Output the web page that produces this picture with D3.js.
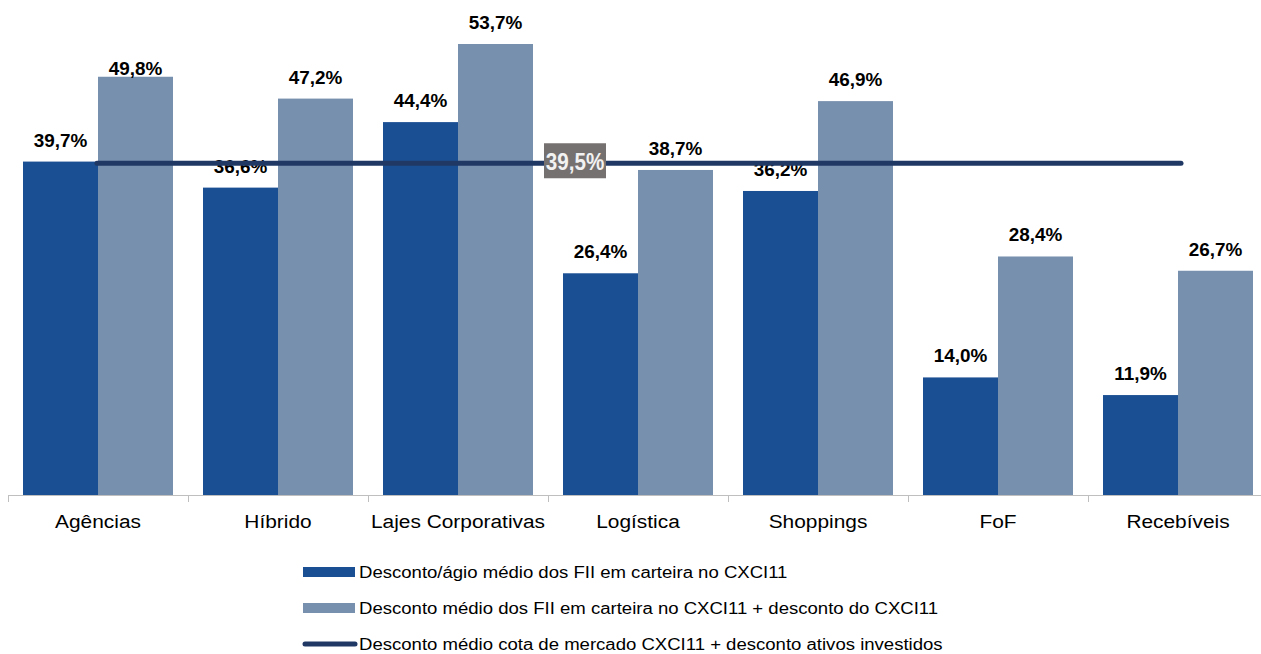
<!DOCTYPE html>
<html>
<head>
<meta charset="utf-8">
<script src="https://cdn.jsdelivr.net/npm/d3@7"></script>
<style>
  html, body { margin: 0; padding: 0; background: #fff; }
  svg { display: block; font-family: "Liberation Sans", Arial, sans-serif; }
</style>
</head>
<body>
<svg id="chart" width="1261" height="654"></svg>
<script>
// dados do gráfico
const categorias = ['Agências', 'Híbrido', 'Lajes Corporativas', 'Logística', 'Shoppings', 'FoF', 'Recebíveis'];
const descontoFII = [39.7, 36.6, 44.4, 26.4, 36.2, 14.0, 11.9];
const descontoTotal = [49.8, 47.2, 53.7, 38.7, 46.9, 28.4, 26.7];
const descontoMercado = 39.5;
const series = ['Desconto/ágio médio dos FII em carteira no CXCI11',
  'Desconto médio dos FII em carteira no CXCI11 + desconto do CXCI11',
  'Desconto médio cota de mercado CXCI11 + desconto ativos investidos'];

const corEscura = '#1b4f93';
const corClara = '#7790ae';
const corLinha = '#203864';

const fmt = v => v.toFixed(1).replace('.', ',') + '%';
const esticar = 1.16; // o texto original é mais largo

const svg = d3.select('#chart');
const baseY = 495;

// escalas
const x = d3.scaleBand().domain(categorias).range([8, 1268]).paddingInner(0).paddingOuter(0);
const x1 = d3.scaleBand().domain([0, 1]).range([15, 165]);
const y = d3.scaleLinear().domain([0, 53.7]).range([baseY, 44]);

function texto(g, px, py, s, size, bold, anchor, sx) {
  return g.append('text')
    .attr('transform', `translate(${px},${py}) scale(${sx || esticar},1)`)
    .attr('text-anchor', anchor || 'middle')
    .attr('font-size', size)
    .attr('font-weight', bold ? 'bold' : 'normal')
    .attr('fill', '#000')
    .text(s);
}

// barras
const grupos = svg.selectAll('g.cat')
  .data(categorias)
  .join('g')
  .attr('class', 'cat')
  .attr('transform', d => `translate(${x(d)},0)`);

grupos.each(function(cat, i) {
  const g = d3.select(this);
  [descontoFII[i], descontoTotal[i]].forEach((v, k) => {
    g.append('rect')
      .attr('x', x1(k))
      .attr('y', y(v))
      .attr('width', x1.bandwidth())
      .attr('height', baseY - y(v))
      .attr('fill', k === 0 ? corEscura : corClara);
  });
});

// eixo
svg.append('line')
  .attr('x1', 8).attr('x2', 1261)
  .attr('y1', baseY + 0.5).attr('y2', baseY + 0.5)
  .attr('stroke', '#bfbfbf').attr('stroke-width', 1);

svg.selectAll('line.tick')
  .data(d3.range(categorias.length + 1))
  .join('line')
  .attr('class', 'tick')
  .attr('x1', i => 8.5 + i * x.bandwidth())
  .attr('x2', i => 8.5 + i * x.bandwidth())
  .attr('y1', baseY).attr('y2', baseY + 7)
  .attr('stroke', '#bfbfbf');

categorias.forEach(c => texto(svg, x(c) + x.bandwidth() / 2, 528, c, 18, false));

// linha de desconto de mercado
const defs = svg.append('defs');
const grad = defs.append('linearGradient').attr('id', 'brilho')
  .attr('x1', '0%').attr('x2', '100%');
grad.append('stop').attr('offset', '0%').attr('stop-color', '#c0c0c0').attr('stop-opacity', 0);
grad.append('stop').attr('offset', '46%').attr('stop-color', '#c0c0c0').attr('stop-opacity', 0);
grad.append('stop').attr('offset', '50%').attr('stop-color', '#c0c0c0').attr('stop-opacity', 1);
grad.append('stop').attr('offset', '100%').attr('stop-color', '#c8c8c8').attr('stop-opacity', 1);

const xa = x(categorias[0]) + x.bandwidth() / 2 - 1;
const xb = x(categorias[categorias.length - 1]) + x.bandwidth() / 2 + 3;
svg.append('line')
  .attr('x1', xa).attr('x2', xb)
  .attr('y1', y(descontoMercado)).attr('y2', y(descontoMercado))
  .attr('stroke', corLinha).attr('stroke-width', 5).attr('stroke-linecap', 'round');
svg.append('line')
  .attr('x1', xa).attr('x2', xb - 2)
  .attr('y1', y(descontoMercado)).attr('y2', y(descontoMercado))
  .attr('stroke', 'url(#brilho)').attr('stroke-width', 1.5);

// rótulos de valores
grupos.each(function(cat, i) {
  const g = d3.select(this);
  [descontoFII[i], descontoTotal[i]].forEach((v, k) => {
    // o rótulo de 49,8% fica colado à barra no original
    const dy = (i === 0 && k === 1) ? -2 : -15;
    texto(g, x1(k) + x1.bandwidth() / 2, y(v) + dy, fmt(v), 18, true, 'middle', 1.05);
  });
});

// caixa 39,5%
const caixa = svg.append('g').attr('transform', `translate(544,${y(descontoMercado) - 20})`);
caixa.append('rect').attr('width', 62).attr('height', 35).attr('fill', '#767171');
texto(caixa, 31, 27, fmt(descontoMercado), 24, true, 'middle', 0.86).attr('fill', '#f2f2f2');

// legenda
const legenda = svg.append('g').attr('transform', 'translate(303,0)');
const linhasY = [572, 608, 644];
series.forEach((s, i) => {
  if (i < 2) {
    legenda.append('rect')
      .attr('x', 0).attr('y', linhasY[i] - 5)
      .attr('width', 52).attr('height', 10)
      .attr('fill', i === 0 ? corEscura : corClara);
  } else {
    legenda.append('line')
      .attr('x1', 2).attr('x2', 52)
      .attr('y1', linhasY[i]).attr('y2', linhasY[i])
      .attr('stroke', corLinha).attr('stroke-width', 5).attr('stroke-linecap', 'round');
  }
  texto(legenda, 56, linhasY[i] + 6, s, 16, false, 'start');
});
</script>
</body>
</html>
